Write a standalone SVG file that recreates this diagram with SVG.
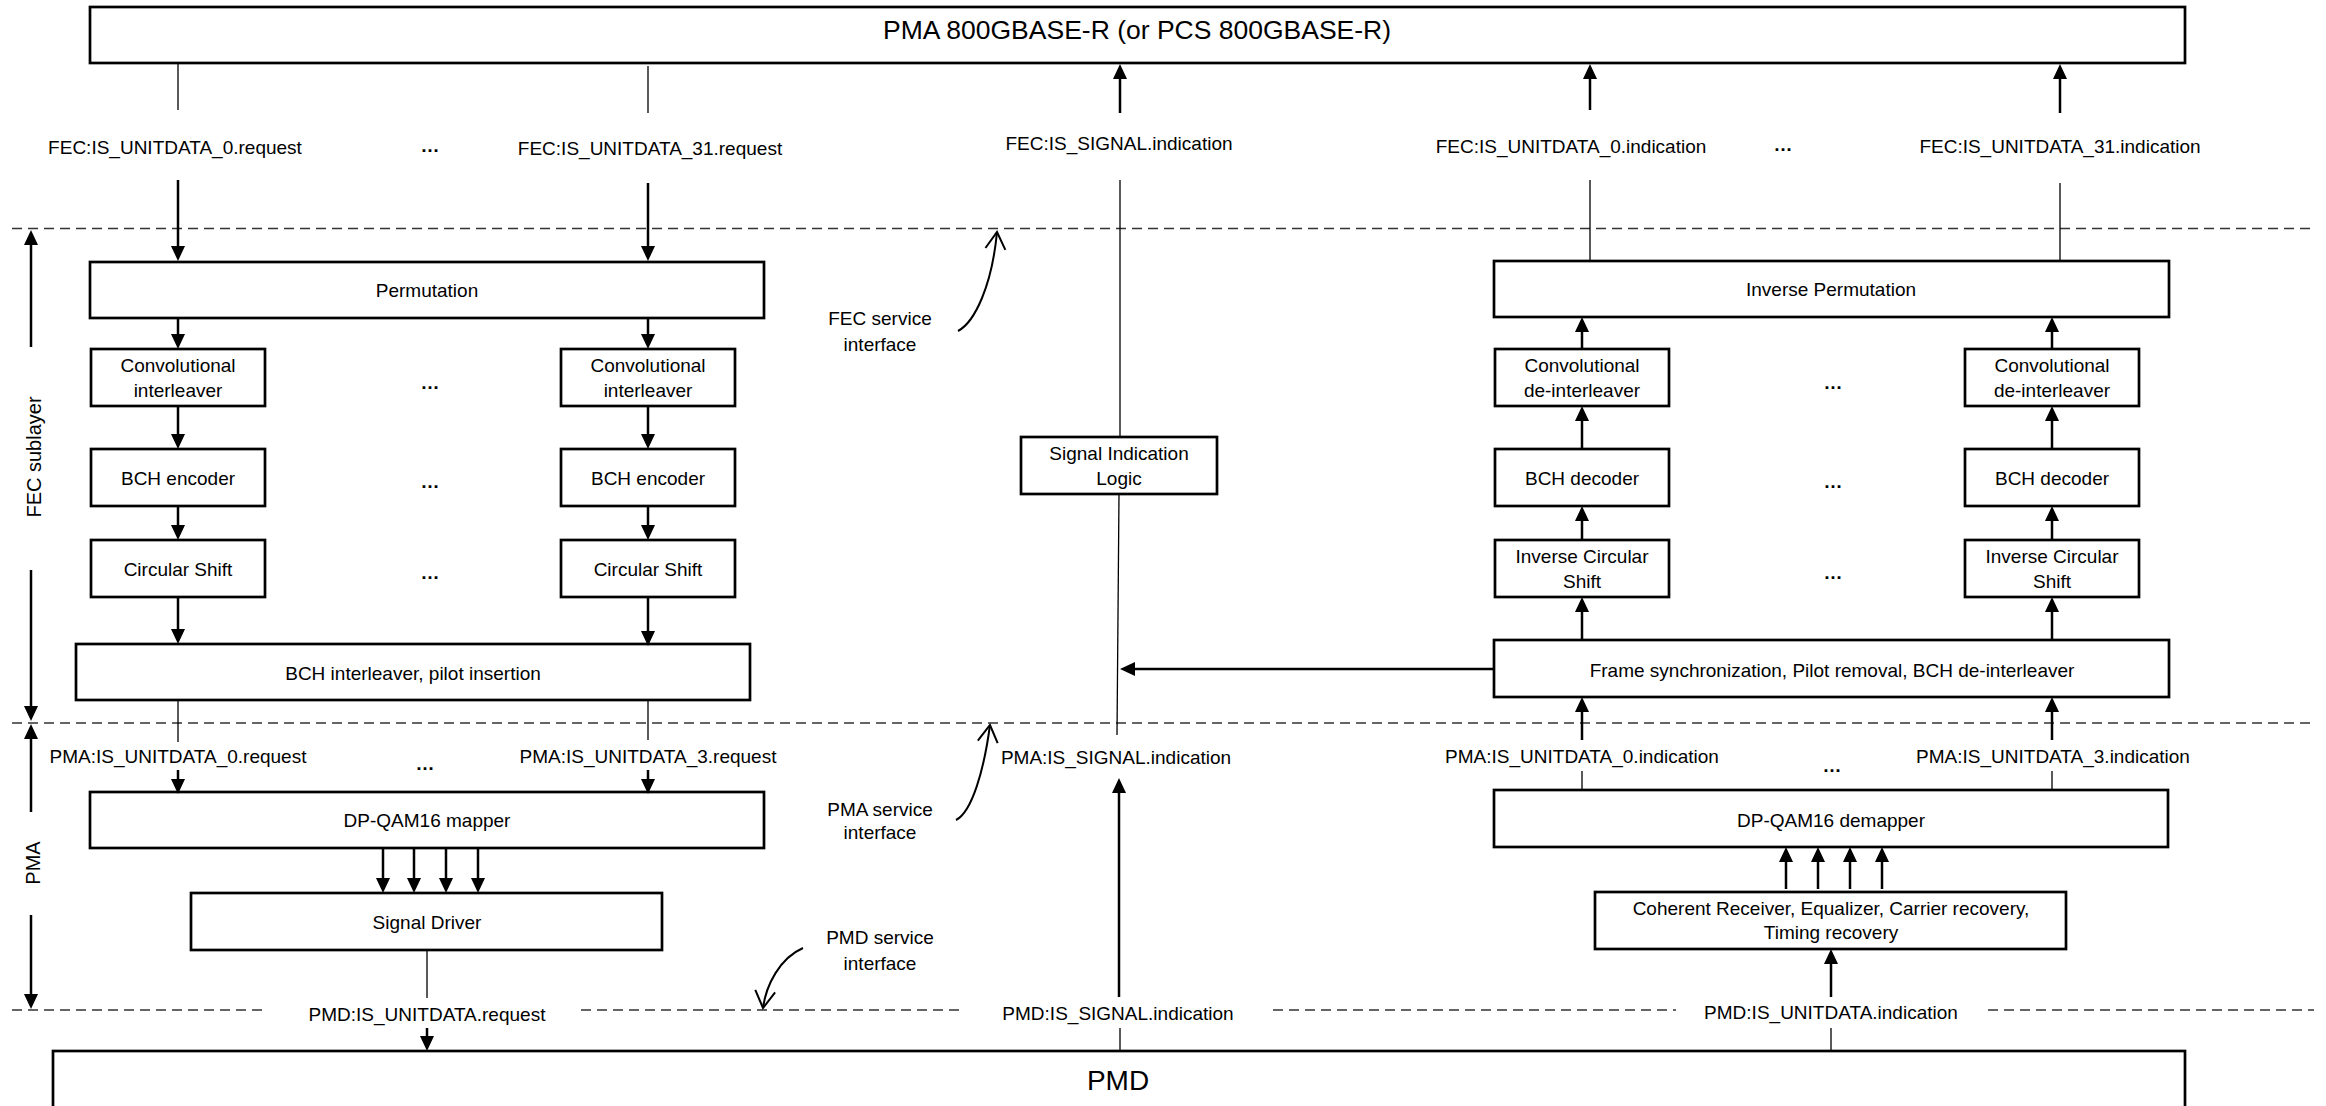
<svg xmlns="http://www.w3.org/2000/svg" width="2326" height="1106" viewBox="0 0 2326 1106">
<style>
.box{fill:#fff;stroke:#000;stroke-width:2.7}
.t{font-family:"Liberation Sans",Arial,sans-serif;font-size:19px;fill:#000;text-anchor:middle}
.el{font-family:"Liberation Sans",Arial,sans-serif;font-size:19px;font-weight:bold;fill:#000;text-anchor:middle}
.thin{stroke:#000;stroke-width:1.3;fill:none}
.arr{stroke:#000;stroke-width:2.5;fill:none;marker-end:url(#ah)}
.dash{stroke:#333;stroke-width:1.6;stroke-dasharray:10 6;fill:none}
.curve{stroke:#000;stroke-width:2;fill:none;marker-end:url(#oh)}
</style>
<defs>
<marker id="ah" markerUnits="userSpaceOnUse" orient="auto" overflow="visible" markerWidth="1" markerHeight="1"><path d="M-5,-7 L10,0 L-5,7 Z" fill="#000"/></marker>
<marker id="oh" markerUnits="userSpaceOnUse" orient="auto" overflow="visible" markerWidth="1" markerHeight="1"><path d="M-17,-10 L0,0 L-17,10" fill="none" stroke="#000" stroke-width="2"/></marker>
</defs>
<rect width="2326" height="1106" fill="#fff"/>

<g id="boundaries">
<line class="dash" x1="12" y1="228.5" x2="2314" y2="228.5"/>
<line class="dash" x1="12" y1="723" x2="2314" y2="723"/>
<line class="dash" x1="12" y1="1010" x2="268" y2="1010"/>
<line class="dash" x1="581" y1="1010" x2="961" y2="1010"/>
<line class="dash" x1="1273" y1="1010" x2="1676" y2="1010"/>
<line class="dash" x1="1988" y1="1010" x2="2314" y2="1010"/>
</g>

<g id="pma-top"><rect class="box" x="90" y="7" width="2095" height="56"/><text class="t" x="1137" y="39" style="font-size:26.5px">PMA 800GBASE-R (or PCS 800GBASE-R)</text></g>
<g id="permutation"><rect class="box" x="90" y="262" width="674" height="56"/><text class="t" x="427" y="297">Permutation</text></g>
<g id="conv-il-0"><rect class="box" x="91" y="349" width="174" height="57"/><text class="t" x="178" y="372">Convolutional</text><text class="t" x="178" y="397">interleaver</text></g>
<g id="conv-il-31"><rect class="box" x="561" y="349" width="174" height="57"/><text class="t" x="648" y="372">Convolutional</text><text class="t" x="648" y="397">interleaver</text></g>
<g id="bch-enc-0"><rect class="box" x="91" y="449" width="174" height="57"/><text class="t" x="178" y="485">BCH encoder</text></g>
<g id="bch-enc-31"><rect class="box" x="561" y="449" width="174" height="57"/><text class="t" x="648" y="485">BCH encoder</text></g>
<g id="circ-0"><rect class="box" x="91" y="540" width="174" height="57"/><text class="t" x="178" y="576">Circular Shift</text></g>
<g id="circ-31"><rect class="box" x="561" y="540" width="174" height="57"/><text class="t" x="648" y="576">Circular Shift</text></g>
<g id="bch-il"><rect class="box" x="76" y="644" width="674" height="56"/><text class="t" x="413" y="680">BCH interleaver, pilot insertion</text></g>
<g id="mapper"><rect class="box" x="90" y="792" width="674" height="56"/><text class="t" x="427" y="827">DP-QAM16 mapper</text></g>
<g id="driver"><rect class="box" x="191" y="893" width="471" height="57"/><text class="t" x="427" y="929">Signal Driver</text></g>
<g id="sil"><rect class="box" x="1021" y="437" width="196" height="57"/><text class="t" x="1119" y="460">Signal Indication</text><text class="t" x="1119" y="485">Logic</text></g>
<g id="inv-perm"><rect class="box" x="1494" y="261" width="675" height="56"/><text class="t" x="1831" y="296">Inverse Permutation</text></g>
<g id="conv-dil-0"><rect class="box" x="1495" y="349" width="174" height="57"/><text class="t" x="1582" y="372">Convolutional</text><text class="t" x="1582" y="397">de-interleaver</text></g>
<g id="conv-dil-31"><rect class="box" x="1965" y="349" width="174" height="57"/><text class="t" x="2052" y="372">Convolutional</text><text class="t" x="2052" y="397">de-interleaver</text></g>
<g id="bch-dec-0"><rect class="box" x="1495" y="449" width="174" height="57"/><text class="t" x="1582" y="485">BCH decoder</text></g>
<g id="bch-dec-31"><rect class="box" x="1965" y="449" width="174" height="57"/><text class="t" x="2052" y="485">BCH decoder</text></g>
<g id="icirc-0"><rect class="box" x="1495" y="540" width="174" height="57"/><text class="t" x="1582" y="563">Inverse Circular</text><text class="t" x="1582" y="588">Shift</text></g>
<g id="icirc-31"><rect class="box" x="1965" y="540" width="174" height="57"/><text class="t" x="2052" y="563">Inverse Circular</text><text class="t" x="2052" y="588">Shift</text></g>
<g id="frame-sync"><rect class="box" x="1494" y="640" width="675" height="57"/><text class="t" x="1832" y="677">Frame synchronization, Pilot removal, BCH de-interleaver</text></g>
<g id="demapper"><rect class="box" x="1494" y="790" width="674" height="57"/><text class="t" x="1831" y="827">DP-QAM16 demapper</text></g>
<g id="coherent"><rect class="box" x="1595" y="892" width="471" height="57"/><text class="t" x="1831" y="915">Coherent Receiver, Equalizer, Carrier recovery,</text><text class="t" x="1831" y="939">Timing recovery</text></g>
<g id="pmd"><rect class="box" x="53" y="1051" width="2132" height="80"/><text class="t" x="1118" y="1090" style="font-size:28px">PMD</text></g>

<g id="labels">
<text class="t" x="175" y="154">FEC:IS_UNITDATA_0.request</text>
<text class="el" x="430" y="152">…</text>
<text class="t" x="650" y="155">FEC:IS_UNITDATA_31.request</text>
<text class="t" x="1119" y="150">FEC:IS_SIGNAL.indication</text>
<text class="t" x="1571" y="153">FEC:IS_UNITDATA_0.indication</text>
<text class="el" x="1783" y="151">…</text>
<text class="t" x="2060" y="153">FEC:IS_UNITDATA_31.indication</text>
<text class="t" x="880" y="325">FEC service</text>
<text class="t" x="880" y="351">interface</text>
<text class="el" x="430" y="389">…</text>
<text class="el" x="430" y="488">…</text>
<text class="el" x="430" y="579">…</text>
<text class="el" x="1833" y="389">…</text>
<text class="el" x="1833" y="488">…</text>
<text class="el" x="1833" y="579">…</text>
<text class="t" x="178" y="763">PMA:IS_UNITDATA_0.request</text>
<text class="el" x="425" y="770">…</text>
<text class="t" x="648" y="763">PMA:IS_UNITDATA_3.request</text>
<text class="t" x="1116" y="764">PMA:IS_SIGNAL.indication</text>
<text class="t" x="1582" y="763">PMA:IS_UNITDATA_0.indication</text>
<text class="el" x="1832" y="772">…</text>
<text class="t" x="2053" y="763">PMA:IS_UNITDATA_3.indication</text>
<text class="t" x="880" y="816">PMA service</text>
<text class="t" x="880" y="839">interface</text>
<text class="t" x="880" y="944">PMD service</text>
<text class="t" x="880" y="970">interface</text>
<text class="t" x="427" y="1021">PMD:IS_UNITDATA.request</text>
<text class="t" x="1118" y="1020">PMD:IS_SIGNAL.indication</text>
<text class="t" x="1831" y="1019">PMD:IS_UNITDATA.indication</text>
<text class="t" x="0" y="0" style="font-size:20px" transform="translate(41,457) rotate(-90)">FEC sublayer</text>
<text class="t" x="0" y="0" style="font-size:20px" transform="translate(40,863) rotate(-90)">PMA</text>
</g>

<g id="connectors">
<line class="thin" x1="178" y1="63" x2="178" y2="110"/>
<line class="thin" x1="648" y1="66" x2="648" y2="113"/>
<line class="thin" x1="1120" y1="180" x2="1120" y2="437"/>
<line class="thin" x1="1119" y1="494" x2="1117" y2="735"/>
<line class="thin" x1="1590" y1="180" x2="1590" y2="261"/>
<line class="thin" x1="2060" y1="183" x2="2060" y2="261"/>
<line class="thin" x1="178" y1="700" x2="178" y2="742"/>
<line class="thin" x1="648" y1="700" x2="648" y2="740"/>
<line class="thin" x1="427" y1="950" x2="427" y2="998"/>
<line class="thin" x1="1120" y1="1028" x2="1120" y2="1051"/>
<line class="thin" x1="1831" y1="1028" x2="1831" y2="1051"/>
<line class="thin" x1="1582" y1="771" x2="1582" y2="790"/>
<line class="thin" x1="2052" y1="771" x2="2052" y2="790"/>

<line class="arr" x1="178" y1="180" x2="178" y2="251"/>
<line class="arr" x1="648" y1="183" x2="648" y2="251"/>
<line class="arr" x1="178" y1="318" x2="178" y2="339"/>
<line class="arr" x1="648" y1="318" x2="648" y2="339"/>
<line class="arr" x1="178" y1="406" x2="178" y2="439"/>
<line class="arr" x1="648" y1="406" x2="648" y2="439"/>
<line class="arr" x1="178" y1="506" x2="178" y2="530"/>
<line class="arr" x1="648" y1="506" x2="648" y2="530"/>
<line class="arr" x1="178" y1="597" x2="178" y2="634"/>
<line class="arr" x1="648" y1="597" x2="648" y2="636"/>
<line class="arr" x1="178" y1="770" x2="178" y2="784"/>
<line class="arr" x1="648" y1="770" x2="648" y2="784"/>
<line class="arr" x1="383" y1="848" x2="383" y2="883"/>
<line class="arr" x1="414" y1="848" x2="414" y2="883"/>
<line class="arr" x1="446" y1="848" x2="446" y2="883"/>
<line class="arr" x1="478" y1="848" x2="478" y2="883"/>
<line class="arr" x1="427" y1="1028" x2="427" y2="1041"/>

<line class="arr" x1="1120" y1="113" x2="1120" y2="74"/>
<line class="arr" x1="1590" y1="110" x2="1590" y2="74"/>
<line class="arr" x1="2060" y1="113" x2="2060" y2="74"/>
<line class="arr" x1="1582" y1="349" x2="1582" y2="327"/>
<line class="arr" x1="2052" y1="349" x2="2052" y2="327"/>
<line class="arr" x1="1582" y1="449" x2="1582" y2="416"/>
<line class="arr" x1="2052" y1="449" x2="2052" y2="416"/>
<line class="arr" x1="1582" y1="540" x2="1582" y2="516"/>
<line class="arr" x1="2052" y1="540" x2="2052" y2="516"/>
<line class="arr" x1="1582" y1="640" x2="1582" y2="607"/>
<line class="arr" x1="2052" y1="640" x2="2052" y2="607"/>
<line class="arr" x1="1582" y1="740" x2="1582" y2="707"/>
<line class="arr" x1="2052" y1="740" x2="2052" y2="707"/>
<line class="arr" x1="1786" y1="889" x2="1786" y2="857"/>
<line class="arr" x1="1818" y1="889" x2="1818" y2="857"/>
<line class="arr" x1="1850" y1="889" x2="1850" y2="857"/>
<line class="arr" x1="1882" y1="889" x2="1882" y2="857"/>
<line class="arr" x1="1831" y1="997" x2="1831" y2="959"/>
<line class="arr" x1="1119" y1="997" x2="1119" y2="788"/>
<line class="arr" x1="1494" y1="669" x2="1130" y2="669"/>

<line class="arr" x1="31" y1="347" x2="31" y2="240"/>
<line class="arr" x1="31" y1="570" x2="31" y2="711"/>
<line class="arr" x1="31" y1="812" x2="31" y2="734"/>
<line class="arr" x1="31" y1="915" x2="31" y2="999"/>

<path class="curve" d="M958,331 C975,322 992,285 997,232"/>
<path class="curve" d="M956,820 C972,812 984,770 990,725"/>
<path class="curve" d="M803,948 C780,958 766,985 763,1008"/>
</g>
</svg>
